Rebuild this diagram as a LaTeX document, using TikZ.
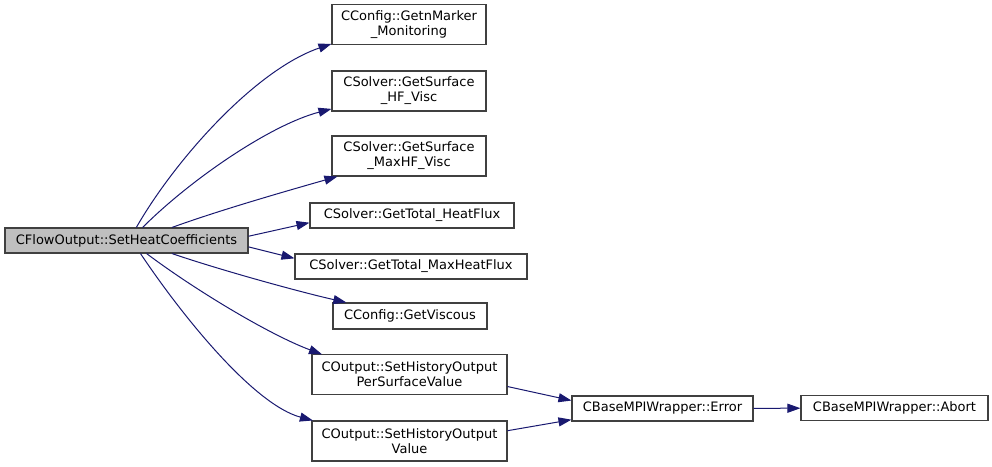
\documentclass[tikz,border=0pt]{standalone}
\usepackage{fontspec}
\setmainfont{DejaVu Sans}
\usepackage{xcolor}
\usetikzlibrary{positioning, arrows.meta}
\definecolor{edgeblue}{HTML}{191970}
\definecolor{rootgray}{HTML}{BFBFBF}
\begin{document}
\begin{tikzpicture}[x=0.75pt,y=-0.75pt]
	\tikzstyle{func}=[draw=black!75,line width=0.8pt,fill=white,inner sep=0pt,align=center,
		font=\fontsize{9.75}{11.25}\selectfont,minimum height=18.75pt]
	\tikzstyle{call}=[draw=edgeblue,line width=0.75pt,-{Triangle[length=9.75pt,width=6.75pt]}]
	\useasboundingbox (0,0) rectangle (992,467);
	% caller
	\node[func,fill=rootgray,minimum width=182.25pt](root) at (126.5,240.5){CFlowOutput::SetHeatCoefficients};
	% callees
	\node[func,minimum width=115.5pt,minimum height=29.5pt](mon) at (409,24.5){CConfig::GetnMarker\\\_Monitoring};
	\node[func,minimum width=115.5pt,minimum height=30pt](hf) at (409,91){CSolver::GetSurface\\\_HF\_Visc};
	\node[func,minimum width=115.5pt,minimum height=30pt](maxhf) at (409,156){CSolver::GetSurface\\\_MaxHF\_Visc};
	\node[func,minimum width=153pt](total) at (412,215.5){CSolver::GetTotal\_HeatFlux};
	\node[func,minimum width=174pt](maxtotal) at (411,266.5){CSolver::GetTotal\_MaxHeatFlux};
	\node[func,minimum width=115.5pt,minimum height=19.5pt](visc) at (410,316){CConfig::GetViscous};
	\node[func,minimum width=146.25pt,minimum height=29.5pt](persurf) at (409.5,374.5){COutput::SetHistoryOutput\\PerSurfaceValue};
	\node[func,minimum width=146.25pt,minimum height=30pt](value) at (409.5,441){COutput::SetHistoryOutput\\Value};
	\node[func,minimum width=135.75pt](err) at (662.5,408.5){CBaseMPIWrapper::Error};
	\node[func,minimum width=140.25pt](abort) at (894.5,408){CBaseMPIWrapper::Abort};
	% calls
	\draw[call] (root.53) .. controls (175,160) and (255,70) .. (mon.194);
	\draw[call] (root.39) .. controls (190,180) and (270,125) .. (hf.193);
	\draw[call] (root.16) .. controls (220,210) and (290,190) .. (maxhf.196);
	\draw[call] (root.2) -- (total.184);
	\draw[call] (root.-3) -- (maxtotal.176);
	\draw[call] (root.-16) .. controls (220,270) and (300,292) .. (visc.168);
	\draw[call] (root.-33) .. controls (195,290) and (270,335) .. (persurf.167);
	\draw[call] (root.-43) .. controls (185,320) and (255,405) .. (value.168);
	\draw[call] (persurf.-7) -- (err.175);
	\draw[call] (value.6) -- (err.187);
	\draw[call] (err) -- (abort);
\end{tikzpicture}
\end{document}
